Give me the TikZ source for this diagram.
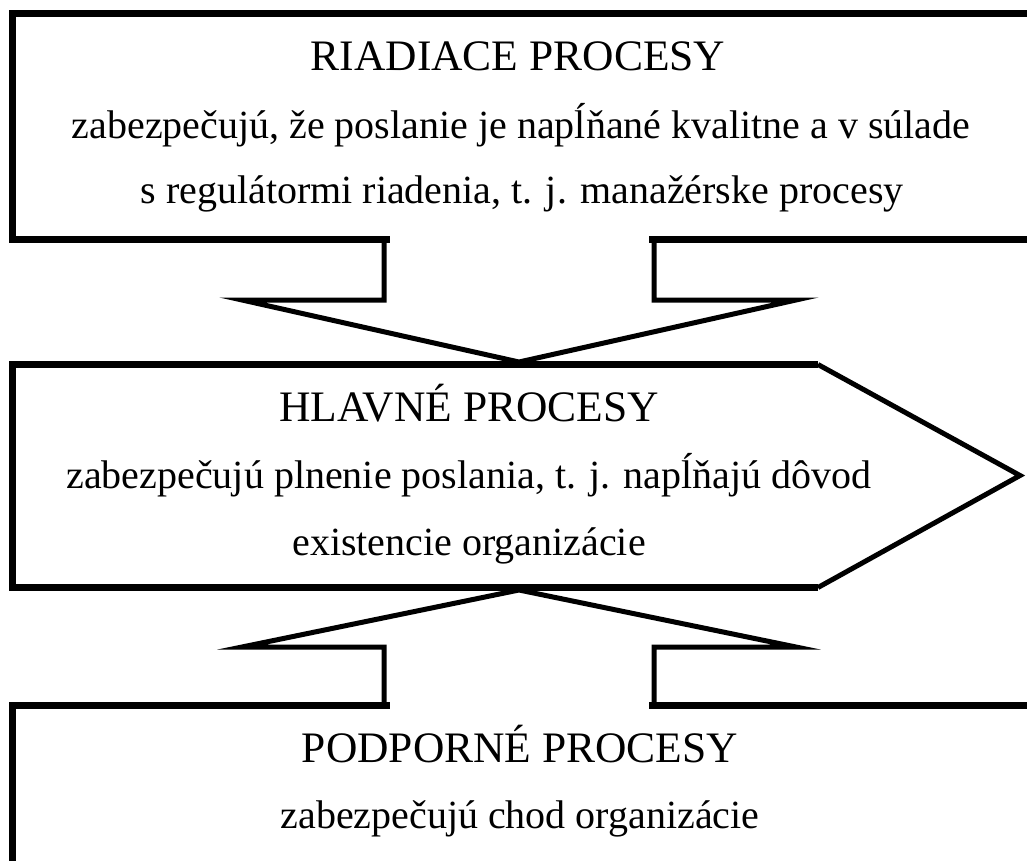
\documentclass[tikz,border=0pt]{standalone}
\usepackage{fontspec}
\setmainfont{Liberation Serif}
\newcommand{\lacute}{\symbol{"013A}}
\tikzset{
  boxline/.style={line width=7pt, draw=black, line cap=rect},
  arrowline/.style={line width=5pt, draw=black, line join=miter},
  titletext/.style={font=\fontsize{43.5}{50}\selectfont, anchor=base, inner sep=0pt},
  bodytext/.style={font=\fontsize{40}{48}\selectfont, anchor=base, inner sep=0pt},
}
\begin{document}
\begin{tikzpicture}[x=1pt,y=-1pt]
\useasboundingbox (0,0) rectangle (1027,861);
\clip (0,0) rectangle (1027,861);
% key coordinates
\coordinate (tl) at (12.5,13.5);
\coordinate (tbl) at (12.5,239.5);
\coordinate (ml) at (12.5,364.5);
\coordinate (mbl) at (12.5,587.5);
\coordinate (bl) at (12.5,705.5);
\coordinate (mtr) at (818,364.5);
\coordinate (mbr) at (818,587.5);
\coordinate (mtip) at (1020,475.5);
% top box
\draw[boxline] (1045,13.5) -- (tl) -- (tbl) -- (386,239.5);
\draw[boxline] (652,239.5) -- (1045,239.5);
% middle pentagon
\draw[boxline, line cap=butt] (mbr) -- (mbl) -- (ml) -- (mtr);
\draw[arrowline] (mtr) -- (mtip) -- (mbr);
% bottom box
\draw[boxline] (12.5,870) -- (bl) -- (386,705.5);
\draw[boxline] (652,705.5) -- (1045,705.5);
% down arrow
\coordinate (dtip) at (519,362);
\draw[arrowline] (384,237) -- (384,300) -- (242,300) -- (dtip) -- (796,300) -- (654,300) -- (654,237);
% up arrow
\coordinate (utip) at (519,590);
\draw[arrowline] (384,708) -- (384,647) -- (242,647) -- (utip) -- (796,647) -- (654,647) -- (654,708);
% texts
\node[titletext] (t1) at (518,70.7) {RIADIACE PROCESY};
\node[bodytext] (t2) at (521,139) {zabezpečujú, že poslanie je nap\lacute ňané kvalitne a v súlade};
\node[bodytext] (t3) at (522,204) {s regulátormi riadenia, t. j. manažérske procesy};
\node[titletext] (m1) at (469,421) {HLAVNÉ PROCESY};
\node[bodytext] (m2) at (469,488) {zabezpečujú plnenie poslania, t. j. nap\lacute ňajú dôvod};
\node[bodytext] (m3) at (469,555) {existencie organizácie};
\node[titletext] (b1) at (520,762.7) {PODPORNÉ PROCESY};
\node[bodytext] (b2) at (520,828) {zabezpečujú chod organizácie};
\end{tikzpicture}
\end{document}
